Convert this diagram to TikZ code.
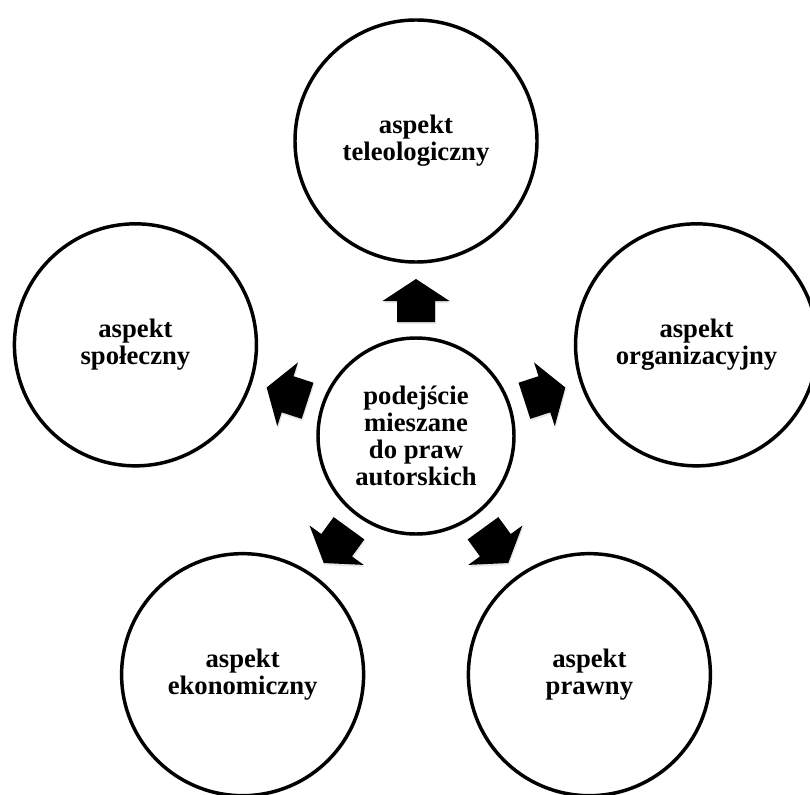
\documentclass[tikz,border=0pt]{standalone}
\usepackage{fontspec}
\setmainfont{Liberation Serif}
\usetikzlibrary{shadows,calc}
\begin{document}
\begin{tikzpicture}[x=0.75pt,y=0.75pt,
  softshadow/.style={drop shadow={opacity=0.18,shadow xshift=0.6pt,shadow yshift=-1.6pt}},
  bubble/.style={circle,draw=black,line width=2.6pt,fill=white,softshadow,
    align=center,inner sep=0pt,
    font=\bfseries\fontsize{20}{20.2}\selectfont},
  outer/.style={bubble,minimum size=181.5pt},
  hub/.style={bubble,minimum size=147pt},
  blockarrow/.style={fill=black,softshadow}]
\useasboundingbox (0,0) rectangle (810,794);

% hub and the five aspects around it on a regular pentagon
\node[hub] (c) at (416,358) {podejście\\mieszane\\do praw\\autorskich};
\node[outer] (t) at ($(416,358)+(90:295)$)  {aspekt\\teleologiczny};
\node[outer] (o) at ($(416,358)+(18:295)$)  {aspekt\\organizacyjny};
\node[outer] (p) at ($(416,358)+(-54:295)$) {aspekt\\prawny};
\node[outer] (e) at ($(416,358)+(234:295)$) {aspekt\\ekonomiczny};
\node[outer] (s) at ($(416,358)+(162:295)$) {aspekt\\społeczny};

% block arrows pointing from the hub towards each aspect
\foreach \ang in {90,18,-54,234,162}{
  \begin{scope}[shift={(c.center)},rotate=\ang]
    \fill[blockarrow] (114,-19) -- (135,-19) -- (135,-33.5) -- (157,0)
      -- (135,33.5) -- (135,19) -- (114,19) -- cycle;
  \end{scope}
}
\end{tikzpicture}
\end{document}
